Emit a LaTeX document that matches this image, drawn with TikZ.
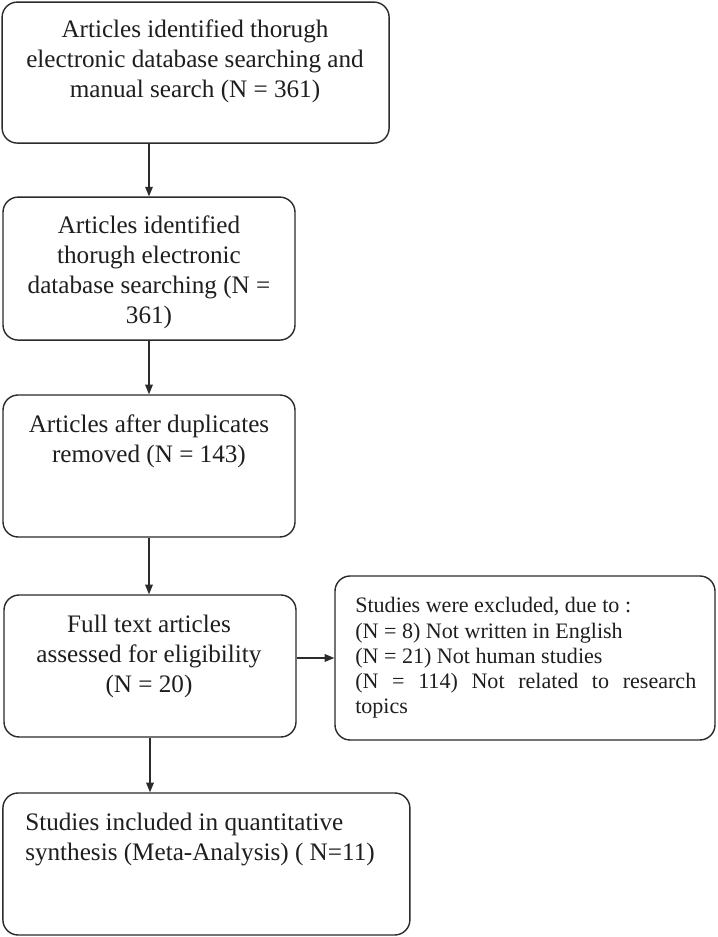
\documentclass[tikz,border=0pt]{standalone}
\usepackage{fontspec}
\setmainfont{Liberation Serif}
\usetikzlibrary{positioning,arrows.meta,calc}
\definecolor{paper}{HTML}{FFFFFF}
\definecolor{edge}{HTML}{2B2B2B}
\definecolor{ink}{HTML}{1E1E1E}
\newcommand{\bigtxt}{\fontsize{17.9}{21.3}\selectfont}
\newcommand{\smalltxt}{\fontsize{15.7}{17.8}\selectfont}

\begin{document}
\begin{tikzpicture}[x=1mm, y=1mm, text=ink,
    box/.style={draw=edge, rounded corners=3.8mm, line width=1pt},
    txt/.style={inner sep=0pt, anchor=north, align=center, font=\bigtxt},
    flow/.style={-{Triangle[length=2.4mm,width=1.9mm]}, line width=0.9pt, draw=edge}]

  % canvas
  \fill[paper] (0,0) rectangle (179.25,234.25);

  % ---------------- boxes of the main column
  \node[box, minimum width=96.75mm, minimum height=35.25mm] (b1) at (48.9,216.1) {};
  \node[txt] at (48.75,229.3) {Articles identified thorugh\\electronic database searching and\\manual search (N = 361)};

  \node[box, minimum width=73mm, minimum height=35.75mm] (b2) at (37.25,167.1) {};
  \node[txt] at (37.25,180.3) {Articles identified\\thorugh electronic\\database searching (N =\\361)};

  \node[box, minimum width=73mm, minimum height=35.5mm] (b3) at (37.25,117.75) {};
  \node[txt] at (37.25,130.5) {Articles after duplicates\\removed (N = 143)};

  \node[box, minimum width=73mm, minimum height=35.5mm] (b4) at (37.5,67.75) {};
  \node[txt] at (37.25,80.5) {Full text articles\\assessed for eligibility\\(N = 20)};

  \node[box, minimum width=101.75mm, minimum height=35.5mm] (b6) at (51.6,18.25) {};
  \node[txt, anchor=north west, align=left] at (6.25,31) {Studies included in quantitative\\synthesis (Meta-Analysis) ( N=11)};

  % ---------------- exclusions
  \node[box, minimum width=95mm, minimum height=41mm] (ex) at (131.25,69.75) {};
  \node[inner sep=0pt, anchor=north west, text width=85.25mm, align=justify, font=\smalltxt] at (88.75,84.9)
       {Studies were excluded, due to :\\(N = 8) Not written in English\\(N = 21) Not human studies\\(N = 114) Not related to research\linebreak topics};

  % ---------------- flow arrows
  \draw[flow] (b2.north |- b1.south) -- (b2.north);
  \draw[flow] (b3.north |- b2.south) -- (b3.north);
  \draw[flow] (b3.south) -- (b4.north -| b3.south);
  \draw[flow] (b4.south) -- (b6.north -| b4.south);
  \draw[flow] (b4.east |- ex.west) -- (ex.west);
\end{tikzpicture}
\end{document}
